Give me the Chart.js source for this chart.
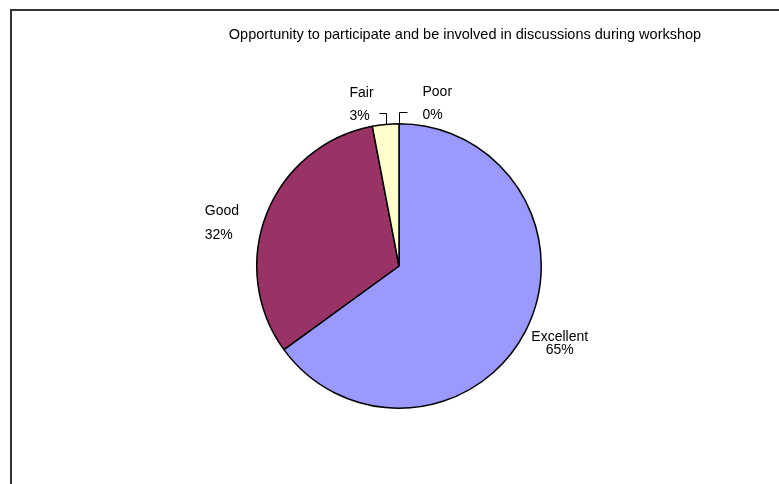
<!DOCTYPE html>
<html>
<head>
<meta charset="utf-8">
<script src="https://cdn.jsdelivr.net/npm/chart.js@4/dist/chart.umd.min.js"></script>
<style>
  html, body { margin: 0; padding: 0; background: #fff; }
  canvas { display: block; }
</style>
</head>
<body>
<canvas id="pieChart" width="779" height="484"></canvas>
<script>
// Workshop feedback: share of answers per rating
const chartTitle = 'Opportunity to participate and be involved in discussions during workshop';
const ratings = ['Excellent', 'Good', 'Fair', 'Poor'];
const percents = [65, 32, 3, 0];
const sliceColors = ['#9999FF', '#993366', '#FFFFCC', '#CCFFFF'];

// where each slice label sits, relative to the outer edge of the slice at its mid-angle
const labelStyle = [
  { kind: 'plain', dx: 34, dy: 13, align: 'center', gap: 13 },
  { kind: 'plain', dx: -62, dy: 10, align: 'left', gap: 24 },
  { kind: 'leader', rise: 11.5, run: -7, textDx: -30, align: 'left', gap: 23 },
  { kind: 'leader', rise: 11.5, run: 8, textDx: 15, align: 'left', gap: 23 }
];

const FONT = '"Liberation Sans", Arial, sans-serif';

const framePlugin = {
  id: 'frame',
  beforeDraw(chart) {
    const ctx = chart.ctx;
    ctx.save();
    ctx.fillStyle = '#fff';
    ctx.fillRect(0, 0, chart.width, chart.height);
    ctx.strokeStyle = '#333';
    ctx.lineWidth = 2;
    ctx.strokeRect(11, 10, chart.width + 20, chart.height + 20);
    ctx.fillStyle = '#000';
    ctx.font = '14.5px ' + FONT;
    ctx.textAlign = 'center';
    ctx.textBaseline = 'middle';
    ctx.fillText(chartTitle, 465, 35);
    ctx.restore();
  }
};

const sliceLabels = {
  id: 'sliceLabels',
  afterDatasetsDraw(chart) {
    const ctx = chart.ctx;
    const meta = chart.getDatasetMeta(0);
    ctx.save();
    ctx.font = '14px ' + FONT;
    ctx.fillStyle = '#000';
    ctx.strokeStyle = '#000';
    ctx.lineWidth = 1;
    ctx.textBaseline = 'middle';
    meta.data.forEach((arc, i) => {
      const p = arc.getProps(['x', 'y', 'startAngle', 'endAngle', 'outerRadius'], true);
      const mid = (p.startAngle + p.endAngle) / 2;
      const ex = p.x + Math.cos(mid) * p.outerRadius;
      const ey = p.y + Math.sin(mid) * p.outerRadius;
      const st = labelStyle[i];
      const lines = [ratings[i], percents[i] + '%'];
      ctx.textAlign = st.align;
      if (st.kind === 'plain') {
        // dy places the middle of the two-line block
        const top = ey + st.dy - st.gap / 2;
        ctx.fillText(lines[0], ex + st.dx, top);
        ctx.fillText(lines[1], ex + st.dx, top + st.gap);
      } else {
        const lx = Math.round(ex) + 0.5;
        const ly = Math.round(ey - st.rise) + 0.5;
        ctx.beginPath();
        ctx.moveTo(lx, ey);
        ctx.lineTo(lx, ly);
        ctx.lineTo(lx + st.run, ly);
        ctx.stroke();
        const tx = lx + st.run + st.textDx;
        ctx.fillText(lines[1], tx, ly + 3);
        ctx.fillText(lines[0], tx, ly + 3 - st.gap);
      }
    });
    ctx.restore();
  }
};

new Chart(document.getElementById('pieChart'), {
  type: 'pie',
  data: {
    labels: ratings,
    datasets: [{
      data: percents,
      backgroundColor: sliceColors,
      borderColor: '#000',
      borderWidth: 1.5
    }]
  },
  options: {
    responsive: false,
    animation: false,
    layout: { padding: { top: 123, bottom: 75, left: 256, right: 237 } },
    plugins: {
      legend: { display: false },
      tooltip: { enabled: false },
      title: { display: false }
    }
  },
  plugins: [framePlugin, sliceLabels]
});
</script>
</body>
</html>
